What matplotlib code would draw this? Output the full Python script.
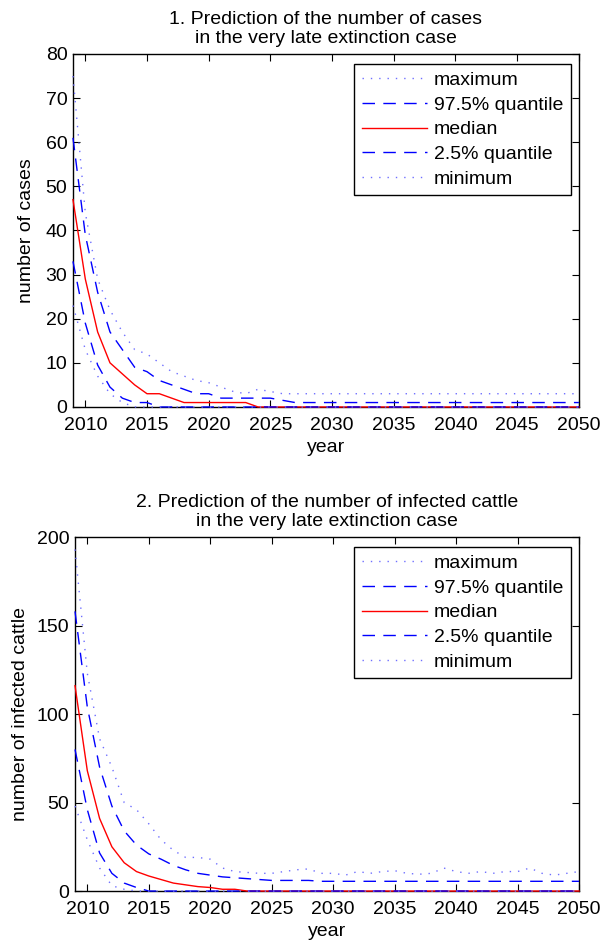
import matplotlib
matplotlib.use("Agg")
import matplotlib.pyplot as plt

# ---------------------------------------------------------#
#                          Data                            #
# ---------------------------------------------------------#

years = list(range(2009, 2051))

# 1. number of cases
cases_max = [75, 44, 29, 22, 17, 13, 12, 10, 8, 7, 6, 5.5, 4.5, 3.5, 3, 4, 3.5, 3] + [3] * 24
cases_q975 = [61, 39, 26, 17, 13, 9, 8, 6, 5, 4, 3, 3, 2, 2, 2, 2, 2, 1.5] + [1] * 24
cases_median = [47, 29, 17, 10, 7.5, 5, 3, 3, 2, 1, 1, 1, 1, 1, 1] + [0] * 27
cases_q025 = [33, 19, 9.5, 4.5, 2, 1, 1] + [0] * 35
cases_min = [23, 13, 7, 3, 1] + [0] * 37

# 2. number of infected cattle
cattle_max = [193, 123, 86, 70, 50, 46, 38, 29, 23, 19, 19, 18, 13, 11, 10.5, 10, 10, 11, 12, 12.5, 10,
              10, 9, 11, 10, 11, 11.5, 10, 9.5, 10, 13, 11, 10, 11, 10, 11, 11, 13, 10, 9, 10, 11]
cattle_q975 = [158, 104, 70, 48, 34, 26, 21, 18, 14.5, 12, 10, 9, 8, 7.5, 7, 6.5, 6, 6, 6, 6] + [5.5] * 22
cattle_median = [116, 68, 41, 25, 16, 11, 8.5, 6.5, 4.5, 3.5, 2.5, 2, 1, 1] + [0] * 28
cattle_q025 = [80, 46, 21.5, 10, 4.5, 2] + [0] * 36
cattle_min = [48, 29, 13, 3, 1] + [0] * 37

labels = ["maximum", "97.5% quantile", "median", "2.5% quantile", "minimum"]

plt.rcParams['font.family'] = ['Liberation Sans', 'DejaVu Sans']
plt.rcParams['font.size'] = 14

DOT = (0, (1, 5))
DASH = (0, (9, 6))
LIGHT_BLUE = '#6f6fff'


def draw_panel(ax, series, ymax, yticks, title, ylabel, ylabelpad):
    styles = [(LIGHT_BLUE, DOT), ('#0000ff', DASH), ('#ff0000', '-'), ('#0000ff', DASH), (LIGHT_BLUE, DOT)]
    for values, (color, ls), lab in zip(series, styles, labels):
        ax.plot(years, values, color=color, linestyle=ls, linewidth=1.0, label=lab,
                zorder=3, clip_on=False)
    ax.set_xlim(2009, 2050)
    ax.set_ylim(0, ymax)
    ax.set_xticks(range(2010, 2051, 5))
    ax.set_yticks(yticks)
    ax.tick_params(direction='in', length=5, top=True, right=True, pad=4)
    ax.tick_params(axis='x', pad=7)
    for s in ax.spines.values():
        s.set_linewidth(1.0)
    ax.set_title(title, fontsize=14, pad=8, linespacing=1.15)
    ax.set_xlabel('year', labelpad=4)
    ax.set_ylabel(ylabel, labelpad=ylabelpad)
    leg = ax.legend(loc='upper right', bbox_to_anchor=(0.984, 0.9717), fancybox=False,
                    edgecolor='black', framealpha=1, handlelength=3.35, labelspacing=0.36,
                    borderpad=0.39, handletextpad=0.36, borderaxespad=0)
    leg.get_frame().set_linewidth(1.0)


fig = plt.figure(figsize=(6.03, 9.44), dpi=100)
ax1 = fig.add_axes([0.121, 0.5689, 0.839, 0.3739])
ax2 = fig.add_axes([0.1244, 0.0561, 0.8358, 0.375])

draw_panel(ax1, [cases_max, cases_q975, cases_median, cases_q025, cases_min], 80, range(0, 81, 10),
           "1. Prediction of the number of cases\nin the very late extinction case", "number of cases", 7.6)
draw_panel(ax2, [cattle_max, cattle_q975, cattle_median, cattle_q025, cattle_min], 200, range(0, 201, 50),
           "2. Prediction of the number of infected cattle\nin the very late extinction case",
           "number of infected cattle", 5.5)

fig.savefig('out.png', dpi=100)
